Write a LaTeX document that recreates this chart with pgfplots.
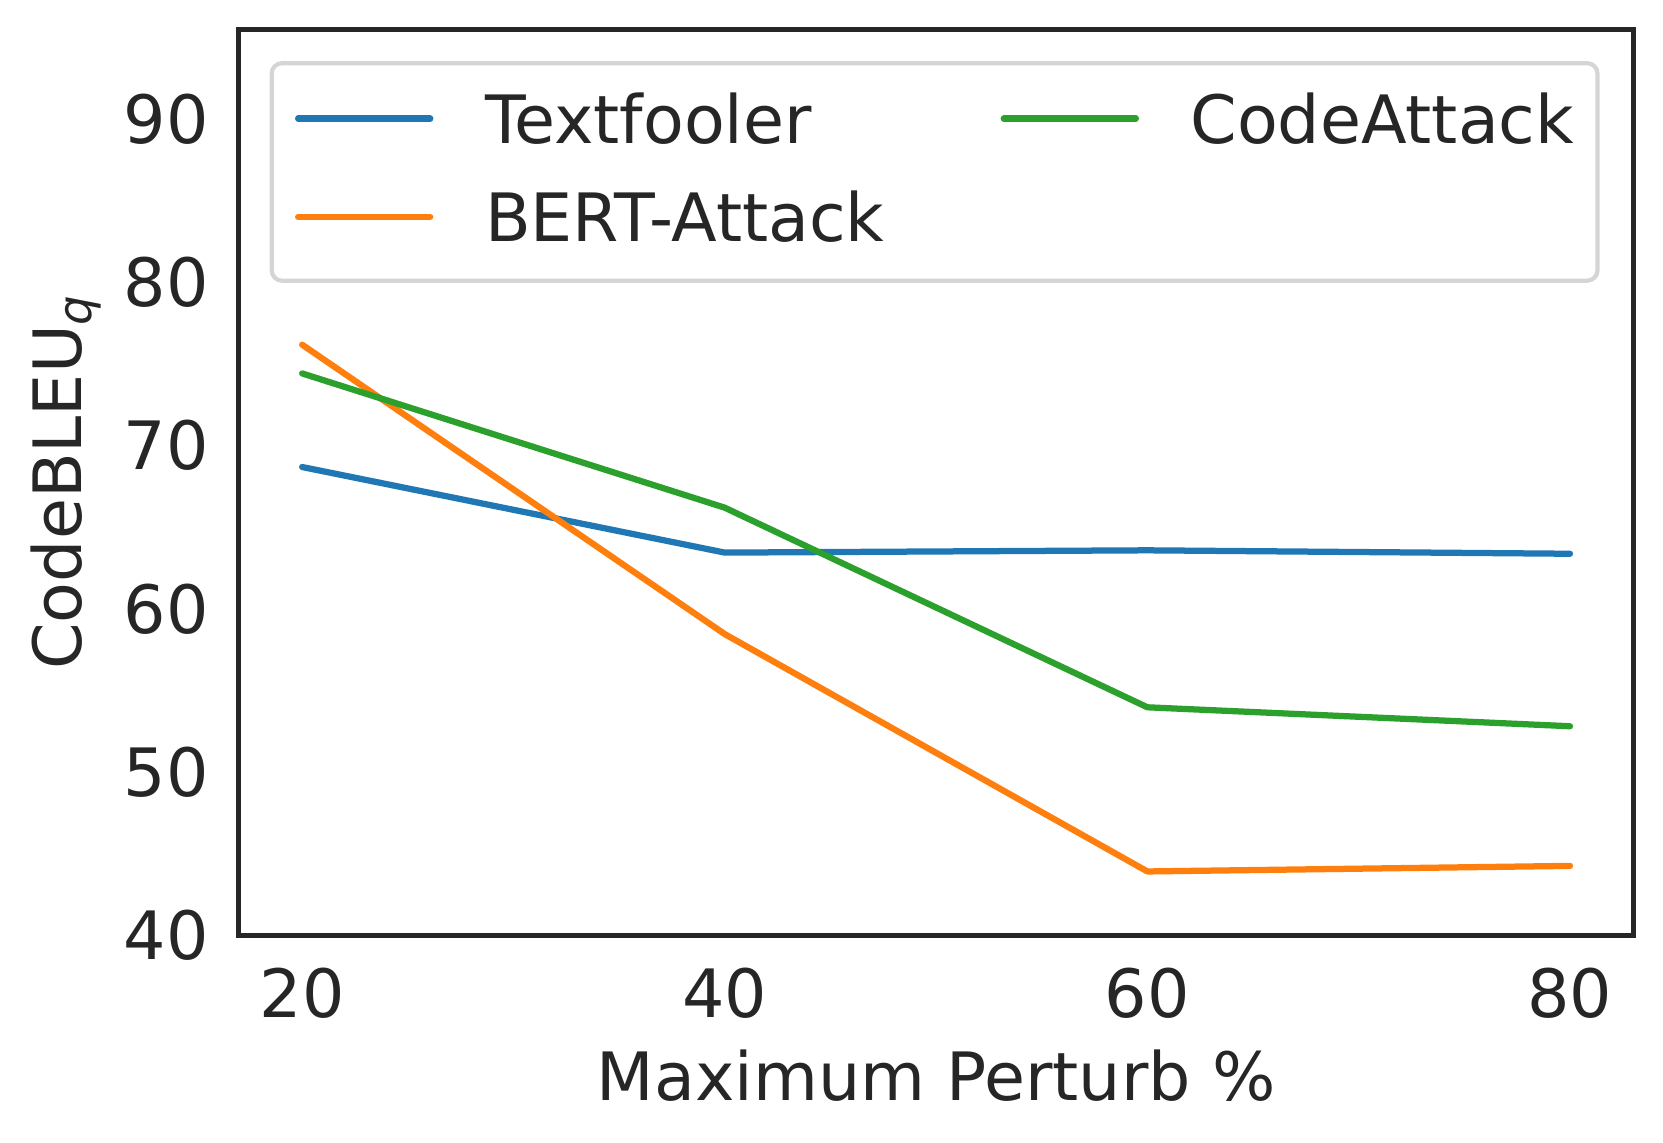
\documentclass[border=0pt]{standalone}
\usepackage{fontspec}
\setmainfont{DejaVu Sans}
\usepackage{pgfplots}
\usepackage{pgfplotstable}
\pgfplotsset{compat=1.18}
\definecolor{tblue}{HTML}{1F77B4}
\definecolor{torange}{HTML}{FF7F0E}
\definecolor{tgreen}{HTML}{2CA02C}
\definecolor{txt}{HTML}{262626}
\definecolor{legframe}{HTML}{D5D5D5}

\pgfplotstableread{
x y
20 68.68
40 63.44
60 63.58
80 63.37
}\textfooler
\pgfplotstableread{
x y
20 76.17
40 58.45
60 43.92
80 44.26
}\bertattack
\pgfplotstableread{
x y
20 74.41
40 66.19
60 53.97
80 52.81
}\codeattack

\begin{document}
\fontsize{16}{19.2}\selectfont
\begin{tikzpicture}
\useasboundingbox (-57.3pt,-49.8pt) rectangle (341.8pt,224.5pt);
\begin{axis}[
  scale only axis,
  width=334.7pt, height=217.4pt,
  xmin=17, xmax=83, ymin=40, ymax=95.46,
  xtick={20,40,60,80}, ytick={40,50,60,70,80,90},
  major tick length=0pt,
  tick style={draw=none},
  axis line style={draw=txt, line width=1.1pt},
  /pgf/number format/assume math mode=true,
  tick label style={font=\fontsize{16}{19.2}\selectfont, text=txt},
  xticklabel style={anchor=base, inner sep=0pt, yshift=-19.8pt},
  yticklabel style={anchor=east, inner sep=0pt, xshift=-7.0pt},
  xlabel={Maximum Perturb \%},
  ylabel={CodeBLEU\raisebox{-2.4pt}{\fontsize{11.2}{12}\selectfont\itshape q}},
  label style={font=\fontsize{16}{19.2}\selectfont, text=txt},
  xlabel style={at={(axis description cs:0.5,-0.1817)}, anchor=base, inner sep=0pt},
  ylabel style={at={(axis description cs:-0.1126,0.5)}, anchor=base, inner sep=0pt},
  legend columns=2,
  legend style={
    at={(axis description cs:0.0236,0.9629)}, anchor=north west,
    draw=legframe, line width=1pt, rounded corners=2.5pt, fill=white,
    inner xsep=5.6pt, inner ysep=6.7pt, outer sep=0pt,
    font=\fontsize{16}{19.2}\selectfont, text=txt,
    cells={anchor=base west},
    nodes={inner sep=0pt, text height=12.6pt, text depth=2.6pt},
    column sep=12.4pt, row sep=8.4pt,
    /tikz/every even column/.append style={column sep=27.9pt},
  },
  legend image code/.code={\draw[#1, line cap=round] (0pt,6pt) -- (31.7pt,6pt);},
]
\addlegendimage{tblue, line width=1.5pt}
\addlegendentry{Textfooler}
\addlegendimage{tgreen, line width=1.5pt}
\addlegendentry{CodeAttack}
\addlegendimage{torange, line width=1.5pt}
\addlegendentry{BERT-Attack}
\addplot[tblue, line width=1.5pt, line join=round, line cap=round, forget plot] table[x=x,y=y] {\textfooler};
\addplot[torange, line width=1.5pt, line join=round, line cap=round, forget plot] table[x=x,y=y] {\bertattack};
\addplot[tgreen, line width=1.5pt, line join=round, line cap=round, forget plot] table[x=x,y=y] {\codeattack};
\end{axis}
\end{tikzpicture}
\end{document}
